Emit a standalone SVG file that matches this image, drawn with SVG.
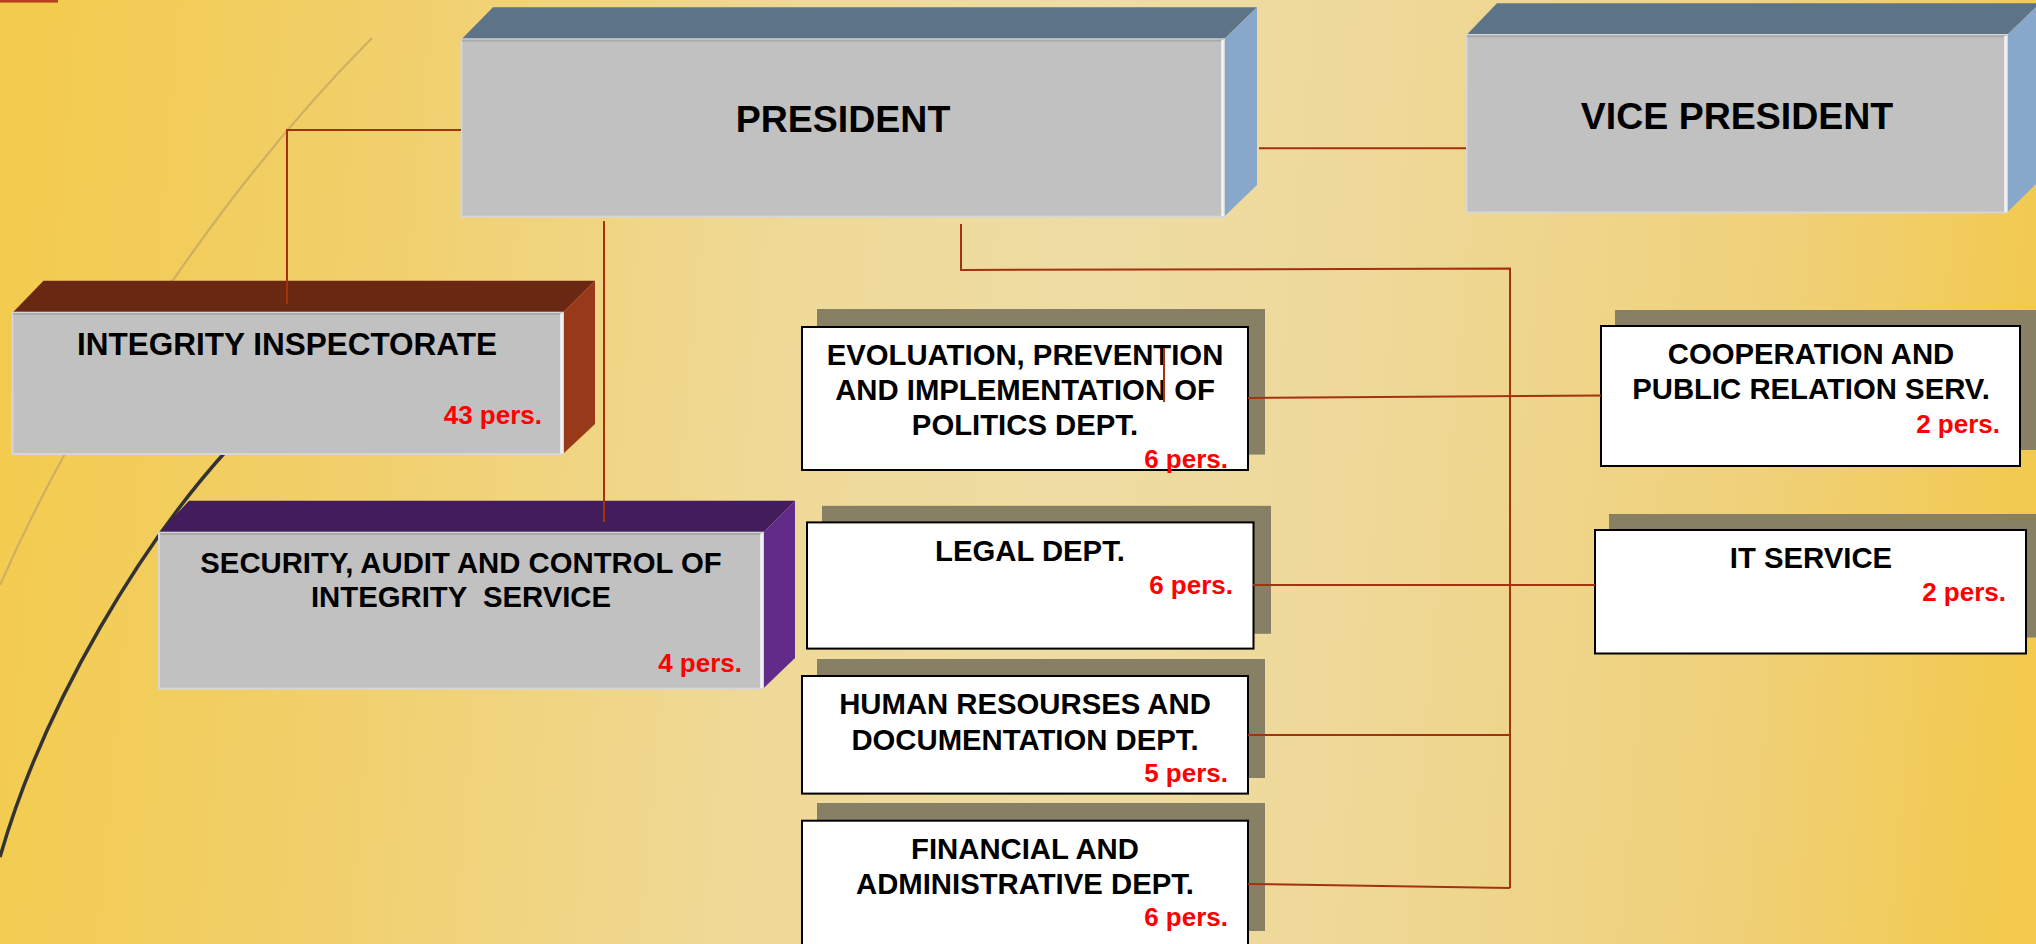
<svg xmlns="http://www.w3.org/2000/svg" width="2036" height="944" viewBox="0 0 2036 944">
<defs>
<linearGradient id="bg" gradientUnits="userSpaceOnUse" x1="0" y1="380" x2="2036" y2="560">
<stop offset="0" stop-color="#f3cb4e"/>
<stop offset="0.18" stop-color="#f1d06c"/>
<stop offset="0.38" stop-color="#efd997"/>
<stop offset="0.52" stop-color="#eedca3"/>
<stop offset="0.66" stop-color="#eed99a"/>
<stop offset="0.86" stop-color="#f0d17a"/>
<stop offset="1" stop-color="#f2c94c"/>
</linearGradient>
<style>
.front{fill:#c1c1c1;stroke:#d6d6d6;stroke-width:2}
.hl{stroke:#f4f4f4;stroke-width:2.5}
.sh{stroke:#a9a9a9;stroke-width:2}
.top{fill:#5d7388}
.side{fill:#87a8ca}
.card{fill:#ffffff;stroke:#000000;stroke-width:2}
.shadow{fill:#878065}
.t{font-family:"Liberation Sans",Arial,sans-serif;font-weight:bold;fill:#000000;text-anchor:middle}
.big{font-size:37.5px}
.mid{font-size:31.5px}
.dep{font-size:29.3px}
.p{font-family:"Liberation Sans",Arial,sans-serif;font-weight:bold;fill:#ff0000;font-size:26px;text-anchor:end}
.c{fill:none;stroke:#a3320f;stroke-width:2}
</style>
</defs>
<rect x="0" y="0" width="2036" height="944" fill="url(#bg)"/>
<rect x="0" y="0" width="58" height="2.6" fill="#b5401a"/>
<path d="M 372 38 C 240 170, 90 380, 0 585" fill="none" stroke="#cdb060" stroke-width="2.2"/>
<path d="M 228 449 C 145 540, 45 700, 0 857" fill="none" stroke="#333333" stroke-width="3.5"/>

<g id="president">
<polygon class="top" points="461.5,39.3 493,7.3 1257,7.3 1224,39.3"/>
<polygon class="side" points="1224,39.3 1257,7.3 1257,185 1224,216.7"/>
<rect class="front" x="461.5" y="39.3" width="762.5" height="177.4"/>
<line class="sh" x1="462" y1="40.5" x2="1223" y2="40.5"/>
<line class="hl" x1="1222.5" y1="40" x2="1222.5" y2="216"/>
<text class="t big" x="843" y="132">PRESIDENT</text>
</g>

<g id="vice-president">
<polygon class="top" points="1466.5,35 1497,3.3 2040,3.3 2007,35"/>
<polygon class="side" points="2007,35 2040,3.3 2040,180 2007,212.5"/>
<rect class="front" x="1466.5" y="35" width="540.5" height="177.5"/>
<line class="sh" x1="1467" y1="36.2" x2="2006" y2="36.2"/>
<line class="hl" x1="2005.5" y1="36" x2="2005.5" y2="212"/>
<text class="t big" x="1737" y="129">VICE PRESIDENT</text>
</g>

<g id="integrity-inspectorate">
<polygon fill="#6a2711" points="12.5,312.7 43.5,280.7 595,280.7 563,312.7"/>
<polygon fill="#983a19" points="563,312.7 595,280.7 595,424 563,454"/>
<rect class="front" x="12.5" y="312.7" width="550.5" height="141.3"/>
<line class="sh" x1="13" y1="314" x2="562" y2="314"/>
<line class="hl" x1="561.5" y1="313.5" x2="561.5" y2="453.5"/>
<text class="t mid" x="287" y="355">INTEGRITY INSPECTORATE</text>
<text class="p" x="542" y="424">43 pers.</text>
</g>

<g id="security-audit">
<polygon fill="#431c5c" points="159,532.7 189,500.7 795,500.7 763,532.7"/>
<polygon fill="#622b8a" points="763,532.7 795,500.7 795,658 763,688.7"/>
<rect class="front" x="159" y="532.7" width="604" height="156"/>
<line class="sh" x1="160" y1="534" x2="762" y2="534"/>
<line class="hl" x1="761.5" y1="533.5" x2="761.5" y2="688"/>
<text class="t dep" x="461" y="573">SECURITY, AUDIT AND CONTROL OF</text>
<text class="t dep" x="461" y="607" xml:space="preserve">INTEGRITY  SERVICE</text>
<text class="p" x="742" y="672">4 pers.</text>
</g>

<g id="evaluation-dept">
<rect class="shadow" x="817" y="309" width="448" height="145.6"/>
<rect class="card" x="802" y="327" width="446" height="143"/>
<text class="t dep" x="1025" y="365">EVOLUATION, PREVENTION</text>
<text class="t dep" x="1025" y="400">AND IMPLEMENTATION OF</text>
<text class="t dep" x="1025" y="435">POLITICS DEPT.</text>
<text class="p" x="1228" y="468">6 pers.</text>
</g>

<g id="legal-dept">
<rect class="shadow" x="822" y="505.8" width="449" height="128"/>
<rect class="card" x="807" y="522.4" width="446.5" height="126.2"/>
<text class="t dep" x="1030" y="561">LEGAL DEPT.</text>
<text class="p" x="1233" y="594">6 pers.</text>
</g>

<g id="human-resources-dept">
<rect class="shadow" x="817" y="659" width="448" height="119"/>
<rect class="card" x="802" y="676" width="446" height="117.6"/>
<text class="t dep" x="1025" y="714">HUMAN RESOURSES AND</text>
<text class="t dep" x="1025" y="749.5">DOCUMENTATION DEPT.</text>
<text class="p" x="1228" y="782">5 pers.</text>
</g>

<g id="financial-dept">
<rect class="shadow" x="817" y="803" width="448" height="128"/>
<rect class="card" x="802" y="820.7" width="446" height="140"/>
<text class="t dep" x="1025" y="859">FINANCIAL AND</text>
<text class="t dep" x="1025" y="894">ADMINISTRATIVE DEPT.</text>
<text class="p" x="1228" y="926">6 pers.</text>
</g>

<g id="cooperation-service">
<rect class="shadow" x="1615" y="310" width="430" height="140"/>
<rect class="card" x="1601" y="326" width="419" height="140"/>
<text class="t dep" x="1811" y="364">COOPERATION AND</text>
<text class="t dep" x="1811" y="399">PUBLIC RELATION SERV.</text>
<text class="p" x="2000" y="433">2 pers.</text>
</g>

<g id="it-service">
<rect class="shadow" x="1609" y="514" width="436" height="123.5"/>
<rect class="card" x="1595" y="530" width="431" height="123.5"/>
<text class="t dep" x="1811" y="568">IT SERVICE</text>
<text class="p" x="2006" y="601">2 pers.</text>
</g>

<g id="connectors">
<polyline class="c" points="461,130 287,130 287,304"/>
<line class="c" x1="604" y1="221" x2="604" y2="522"/>
<line class="c" x1="1259" y1="148.3" x2="1466" y2="148.3"/>
<polyline class="c" points="961,224 961,270 1510,268.5 1510,888"/>
<line class="c" x1="1248" y1="398" x2="1601" y2="395.5"/>
<line class="c" x1="1253" y1="585" x2="1595" y2="585"/>
<line class="c" x1="1248" y1="735" x2="1510" y2="735"/>
<line class="c" x1="1248" y1="884" x2="1510" y2="888"/>
<line class="c" x1="1164" y1="348" x2="1164" y2="402"/>
</g>
</svg>
